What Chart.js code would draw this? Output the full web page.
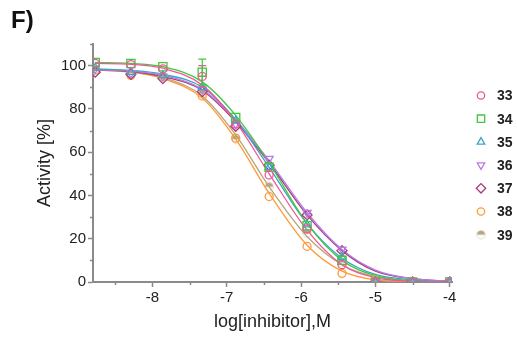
<!DOCTYPE html>
<html>
<head>
<meta charset="utf-8">
<script src="https://cdn.jsdelivr.net/npm/chart.js@4.4.1/dist/chart.umd.min.js"></script>
<style>
  html, body { margin: 0; padding: 0; background: #fff; }
  #wrap { width: 517px; height: 342px; }
</style>
</head>
<body>
<div id="wrap"><canvas id="c" width="517" height="342"></canvas></div>
<script>
// ── data (panel F) ──────────────────────────────────────────────────────────
const logConc = [-8.77, -8.29, -7.86, -7.33, -6.88, -6.43, -5.92, -5.45, -5.0, -4.5, -4.0];

const labels = ["33", "34", "35", "36", "37", "38", "39"];

// measured activity [%]
const act33 = [101, 100.5, 98.5, 95, 73, 49.5, 24.5, 8, 0, 0, 0];
const act34 = [101.5, 101, 99.5, 97, 76, 53, 26, 10, 0, 0, 0];
const act35 = [99, 97, 95.5, 90, 74.5, 53, 26.5, 11.5, 0, 0, 0];
const act36 = [98.5, 96.5, 95, 89, 73, 57, 32, 15, 0, 0, 0];
const act37 = [97, 96, 94, 88, 72, 54, 31, 14.5, 0, 0, 0];
const act38 = [98, 95.5, 95, 86, 66.5, 39.5, 16.5, 4, 1, 0, 0];
const act39 = [98, 96.5, 94.5, 87, 66, 44, 22.5, 9, 0, 0, 0];

// error bars (only visible ones)
const err33 = [0, 0, 0, 5, 0, 0, 0, 0, 0, 0, 0];
const err34 = [0, 0, 0, 6, 0, 0, 0, 0, 0, 0, 0];

// fitted curves, read at the same concentrations
const fit33 = [101, 100.6, 98.8, 91, 74, 50, 24, 8, 2, 0.3, 0];
const fit34 = [101.5, 101, 99.5, 92.5, 77, 55, 27, 10, 3, 0.5, 0];
const fit35 = [98.5, 97.8, 96, 90, 75, 53, 27, 11, 3.5, 1, 0];
const fit36 = [98, 97.5, 95.5, 89, 75, 56, 32, 15, 5.5, 1.5, 0.3];
const fit37 = [98, 97.2, 95, 88.5, 74, 55, 31, 14.5, 5, 1.5, 0.3];
const fit38 = [98, 97, 94, 85, 66, 41, 17, 5, 1, 0.2, 0];
const fit39 = [98.5, 97.5, 94.5, 86, 68, 44, 21, 8, 2.5, 0.5, 0];

const xTicks = [-8, -7, -6, -5, -4];
const xMinorTicks = [-8.5, -7.5, -6.5, -5.5, -4.5];
const yTicks = [0, 20, 40, 60, 80, 100];
const yMinorTicks = [10, 30, 50, 70, 90, 110];

// ── styling ─────────────────────────────────────────────────────────────────
const FONT = "'Liberation Sans', Arial, Helvetica, sans-serif";
const AXIS = "#8a8a8a";

function halfDisc(color) {
  const c = document.createElement("canvas");
  c.width = 11; c.height = 11;
  const g = c.getContext("2d");
  g.fillStyle = color;
  g.beginPath(); g.arc(5.5, 5.5, 4.2, Math.PI, 0); g.closePath(); g.fill();
  g.strokeStyle = "rgba(184,168,128,0.35)"; g.lineWidth = 1;
  g.beginPath(); g.arc(5.5, 5.5, 4.2, 0, Math.PI); g.stroke();
  return c;
}

const series = [
  { act: act33, fit: fit33, err: err33, color: "#f2569a", style: "circle",   radius: 4,   rot: 0 },
  { act: act34, fit: fit34, err: err34, color: "#3fc93f", style: "rect",     radius: 5.8, rot: 0 },
  { act: act35, fit: fit35, err: null,  color: "#3aa6c6", style: "triangle", radius: 4.6, rot: 0 },
  { act: act36, fit: fit36, err: null,  color: "#b67be8", style: "triangle", radius: 4.6, rot: 180 },
  { act: act37, fit: fit37, err: null,  color: "#aa3a76", style: "rectRot",  radius: 5,   rot: 0 },
  { act: act38, fit: fit38, err: null,  color: "#ff9a3a", style: "circle",   radius: 4,   rot: 0 },
  { act: act39, fit: fit39, err: null,  color: "#b6a67c", style: null,       radius: 5,   rot: 0 },
];
series[6].style = halfDisc(series[6].color);

const toXY = (arr) => logConc.map((x, i) => ({ x: x, y: arr[i] }));

const datasets = [];
series.forEach((s, i) => {
  datasets.push({
    type: "line",
    label: labels[i],
    data: toXY(s.act),
    showLine: false,
    pointStyle: s.style,
    pointRotation: s.rot,
    pointRadius: s.radius,
    pointBorderWidth: 1.3,
    pointBorderColor: s.color,
    pointBackgroundColor: "rgba(0,0,0,0)",
    borderColor: s.color,
  });
});
series.forEach((s, i) => {
  datasets.push({
    type: "line",
    label: labels[i] + " fit",
    data: toXY(s.fit),
    borderColor: s.color,
    borderWidth: 1.3,
    pointRadius: 0,
    cubicInterpolationMode: "monotone",
    fill: false,
  });
});

// error bars, minor ticks, legend and panel letter
const extras = {
  id: "extras",
  afterDatasetsDraw(chart) {
    const { ctx, scales: { x, y } } = chart;
    ctx.save();
    series.forEach((s, i) => {
      if (!s.err) return;
      ctx.strokeStyle = s.color;
      ctx.lineWidth = 1.2;
      s.err.forEach((e, k) => {
        if (!e) return;
        const px = x.getPixelForValue(logConc[k]);
        const y1 = y.getPixelForValue(s.act[k] - e);
        const y2 = y.getPixelForValue(s.act[k] + e);
        ctx.beginPath();
        ctx.moveTo(px, y1); ctx.lineTo(px, y2);
        ctx.moveTo(px - 4, y1); ctx.lineTo(px + 4, y1);
        ctx.moveTo(px - 4, y2); ctx.lineTo(px + 4, y2);
        ctx.stroke();
      });
    });
    ctx.restore();
  },
  afterDraw(chart) {
    const { ctx, chartArea: a, scales: { x, y } } = chart;
    ctx.save();
    ctx.strokeStyle = AXIS;
    ctx.lineWidth = 1.5;
    ctx.beginPath();
    yMinorTicks.forEach((v) => {
      const py = Math.round(y.getPixelForValue(v)) + 0.5;
      ctx.moveTo(a.left - 3, py); ctx.lineTo(a.left, py);
    });
    xMinorTicks.forEach((v) => {
      const px = Math.round(x.getPixelForValue(v)) + 0.5;
      ctx.moveTo(px, a.bottom); ctx.lineTo(px, a.bottom + 3);
    });
    ctx.stroke();

    // legend
    ctx.font = "bold 14px " + FONT;
    ctx.textBaseline = "middle";
    ctx.fillStyle = "#222";
    series.forEach((s, i) => {
      const ly = 95.5 + i * 23.2;
      ctx.strokeStyle = s.color;
      ctx.fillStyle = "rgba(0,0,0,0)";
      ctx.lineWidth = 1.3;
      if (Chart.helpers && Chart.helpers.drawPoint) {
        Chart.helpers.drawPoint(ctx, {
          pointStyle: s.style, rotation: s.rot,
          radius: s.style === "rect" ? 5.2 : s.radius - 0.3, borderWidth: 1.3,
        }, 481, ly);
      }
      ctx.fillStyle = "#222";
      ctx.fillText(labels[i], 497, ly + 1);
    });

    // panel letter
    ctx.font = "bold 24px " + FONT;
    ctx.fillStyle = "#111";
    ctx.fillText("F)", 11, 21);
    ctx.restore();
  },
};

new Chart(document.getElementById("c"), {
  type: "line",
  data: { datasets },
  options: {
    responsive: false,
    animation: false,
    layout: { padding: { top: 44, right: 65, left: 0, bottom: 0 } },
    plugins: {
      legend:  { display: false },
      tooltip: { enabled: false },
    },
    scales: {
      x: {
        type: "linear",
        min: -8.8,
        max: -3.97,
        afterFit: (s) => { s.height = 60; },
        afterBuildTicks: (s) => { s.ticks = xTicks.map((v) => ({ value: v })); },
        ticks: {
          color: "#222", padding: 2, maxRotation: 0,
          font: { family: FONT, size: 15 },
          callback: (v) => String(v),
        },
        grid:   { drawOnChartArea: false, drawTicks: true, tickLength: 5, tickWidth: 1.5, tickColor: AXIS },
        border: { display: true, color: AXIS, width: 2 },
        title: {
          display: true, text: "log[inhibitor],M", color: "#222",
          font: { family: FONT, size: 18 }, padding: { top: 0, bottom: 9 },
        },
      },
      y: {
        type: "linear",
        min: 0,
        max: 110,
        afterFit: (s) => { s.width = 93; },
        afterBuildTicks: (s) => { s.ticks = yTicks.map((v) => ({ value: v })); },
        ticks: {
          color: "#222", padding: 2,
          font: { family: FONT, size: 15 },
        },
        grid:   { drawOnChartArea: false, drawTicks: true, tickLength: 5, tickWidth: 1.5, tickColor: AXIS },
        border: { display: true, color: AXIS, width: 2 },
        title: {
          display: true, text: "Activity [%]", color: "#222",
          font: { family: FONT, size: 18 }, padding: { top: 34, bottom: 0 },
        },
      },
    },
  },
  plugins: [extras],
});
</script>
</body>
</html>
